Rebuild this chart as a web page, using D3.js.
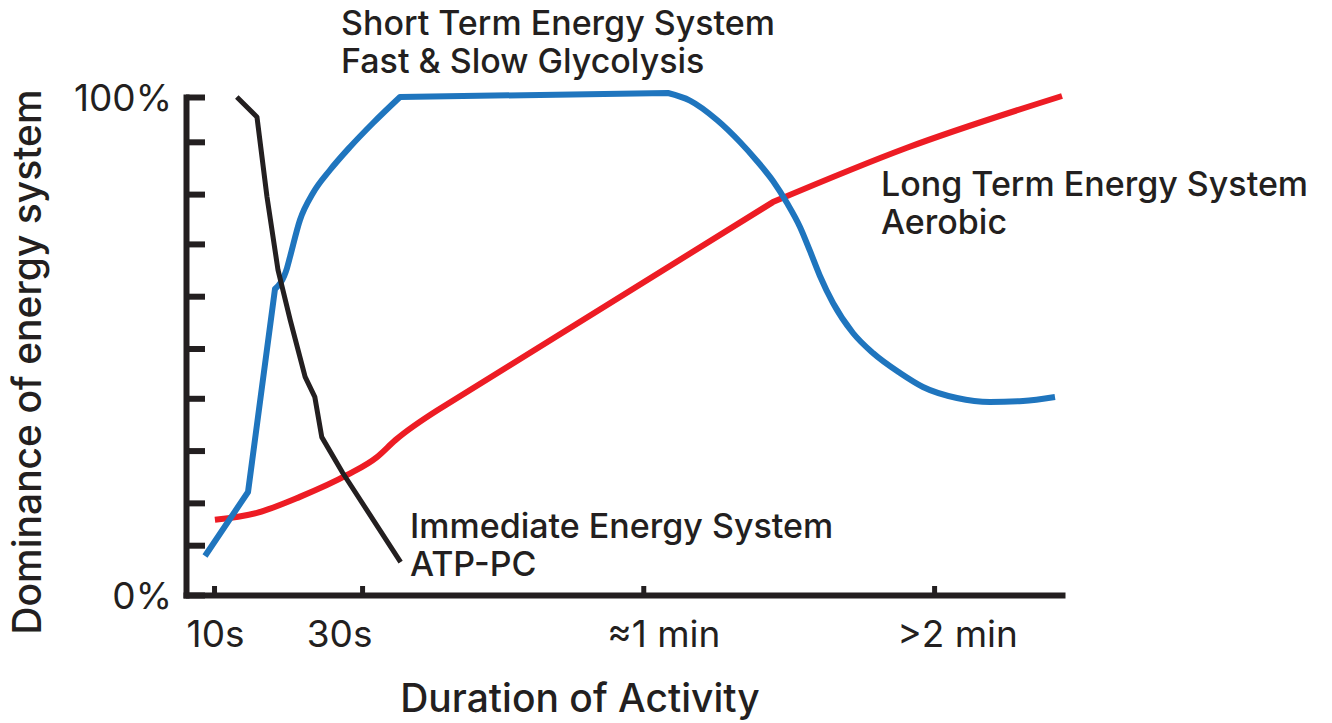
<!DOCTYPE html>
<html>
<head>
<meta charset="utf-8">
<script src="https://cdn.jsdelivr.net/npm/d3@7"></script>
<style>
  body { margin: 0; background: #fff; }
  text { font-family: "Inter", "Lato", sans-serif; fill: #231f20; }
</style>
</head>
<body>
<div id="chart"></div>
<script>
// ---- data (x in relative duration units 0-100, y = % dominance) ----
const xTickValues = [3.2, 20.1, 52.2, 85.4];
const xTickLabels = ["10s", "30s", "\u22481 min", ">2 min"];
const yTickValues = [0, 10, 18.5, 29, 39.5, 49.5, 60, 70.5, 80.5, 91, 100];

// Immediate (ATP-PC)
const atpX = [5.8, 8.1, 9.25, 10.5, 11.9, 13.6, 14.7, 15.5, 17.9, 24.5];
const atpY = [100, 96, 79.9, 65.3, 55.2, 43.8, 39.8, 31.7, 24.5, 6.6];

// Short term (glycolysis)
const glyX = [2.17, 7.08, 10.16, 11.53, 11.87, 13.01, 14.5, 16.44, 18.72, 21.35, 24.43, 55.02,
  57.53, 60.62, 63.24, 65.18, 67.01, 68.61, 70.09, 71.23, 72.37, 73.86, 76.14, 78.42, 81.51,
  84.13, 88.01, 91.78, 95.55, 99.2];
const glyY = [7.83, 20.68, 61.45, 65.66, 67.87, 75.3, 80.72, 85.34, 89.96, 94.78, 100, 100.8,
  99.28, 95.38, 90.96, 87.15, 83.13, 78.71, 73.9, 69.08, 64.06, 58.63, 52.61, 48.59, 44.58,
  41.77, 39.56, 38.76, 38.96, 39.76];

// Long term (aerobic)
const aerX = [3.3, 8.1, 13.0, 18.4, 21.8, 23.9, 28.7, 67.0, 82.3, 100];
const aerY = [15.1, 16.5, 19.7, 24.1, 27.7, 31.1, 37.1, 78.9, 89.8, 100.2];

// ---- setup ----
const svgWidth = 1332, svgHeight = 723;
const svg = d3.select("#chart").append("svg")
  .attr("width", svgWidth)
  .attr("height", svgHeight);

const x = d3.scaleLinear().domain([0, 100]).range([186, 1062]);
const y = d3.scaleLinear().domain([0, 100]).range([595, 97]);

// axes
const yAxis = svg.append("g")
  .attr("transform", `translate(${x(0)},0)`)
  .call(d3.axisLeft(y)
    .tickValues(yTickValues)
    .tickSizeInner(-19)
    .tickSizeOuter(0)
    .tickPadding(14)
    .tickFormat(d => d === 0 ? "0%" : d === 100 ? "100%" : ""));

const xAxis = svg.append("g")
  .attr("transform", `translate(0,${y(0)})`)
  .call(d3.axisBottom(x)
    .tickValues(xTickValues)
    .tickSizeInner(-9)
    .tickSizeOuter(0)
    .tickPadding(26)
    .tickFormat((d, i) => xTickLabels[i]));

svg.selectAll(".domain")
  .attr("stroke", "#231f20")
  .attr("stroke-width", 6)
  .attr("stroke-linecap", "square");
yAxis.selectAll(".tick line").attr("stroke", "#231f20").attr("stroke-width", 6);
xAxis.selectAll(".tick line").attr("stroke", "#231f20").attr("stroke-width", 5);
svg.selectAll(".tick text")
  .attr("fill", "#231f20")
  .style("font-size", "37px")
  .style("font-weight", 400);
yAxis.selectAll(".tick text").attr("dy", "0.36em");

// labels under the x ticks are not centred on them in the original
const xLabelShift = [1, -23, 20, 23];
xAxis.selectAll(".tick text").attr("dx", (d, i) => xLabelShift[i]);

// lines: each series is split in pieces, sharp corners stay linear,
// the rounded bits get a monotone curve
function drawLine(xs, ys, color, width, pieces) {
  const pts = xs.map((d, i) => [d, ys[i]]);
  let path = "";
  pieces.forEach(([from, to, curve], k) => {
    const seg = d3.line().x(d => x(d[0])).y(d => y(d[1])).curve(curve)(pts.slice(from, to + 1));
    path += k === 0 ? seg : "L" + seg.slice(1);
  });
  svg.append("path")
    .attr("fill", "none")
    .attr("stroke", color)
    .attr("stroke-width", width)
    .attr("stroke-linejoin", "round")
    .attr("d", path);
}

drawLine(aerX, aerY, "#ed1c24", 6, [
  [0, 6, d3.curveMonotoneX],
  [6, 7, d3.curveLinear],
  [7, 9, d3.curveMonotoneX]
]);
drawLine(glyX, glyY, "#1f75be", 6, [
  [0, 2, d3.curveLinear],
  [2, 10, d3.curveMonotoneX],
  [10, 11, d3.curveLinear],
  [11, 29, d3.curveMonotoneX]
]);
drawLine(atpX, atpY, "#231f20", 5, [[0, 9, d3.curveLinear]]);

// labels
function label(lines, lx, ly) {
  const t = svg.append("text")
    .attr("x", lx).attr("y", ly)
    .style("font-size", "34px")
    .style("font-weight", 500);
  lines.forEach((s, i) => {
    t.append("tspan").attr("x", lx).attr("dy", i === 0 ? 0 : 38).text(s);
  });
}
label(["Short Term Energy System", "Fast & Slow Glycolysis"], 341, 35);
label(["Immediate Energy System", "ATP-PC"], 410, 538);
label(["Long Term Energy System", "Aerobic"], 881, 196);

svg.append("text")
  .attr("x", 580).attr("y", 712)
  .attr("text-anchor", "middle")
  .style("font-size", "39px")
  .style("font-weight", 500)
  .text("Duration of Activity");

svg.append("text")
  .attr("transform", "translate(41,362) rotate(-90)")
  .attr("text-anchor", "middle")
  .style("font-size", "39px")
  .style("font-weight", 500)
  .text("Dominance of energy system");
</script>
</body>
</html>
